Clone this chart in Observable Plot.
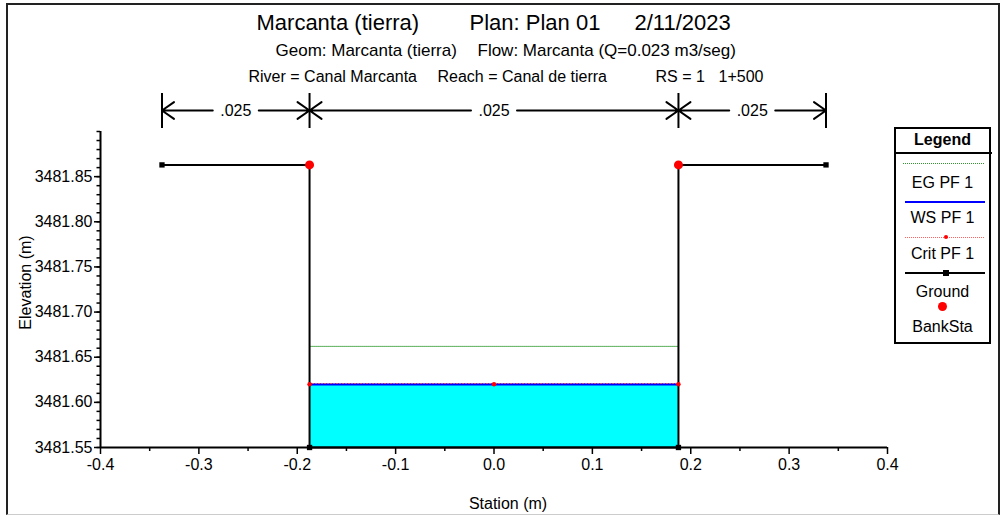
<!DOCTYPE html>
<html><head><meta charset="utf-8">
<script src="https://cdn.jsdelivr.net/npm/d3@7"></script>
<script src="https://cdn.jsdelivr.net/npm/@observablehq/plot@0.6"></script>
<style>
body{margin:0;background:#fff;font-family:"Liberation Sans",Arial,sans-serif;}
#wrap{position:relative;width:1000px;height:515px;overflow:hidden;background:#fff;}
#wrap svg{position:absolute;left:0;top:0;}
#frame{position:absolute;left:6px;top:3px;width:990px;height:509px;border:2px solid #222;border-bottom:1px solid #ccc;pointer-events:none;}
.lg{position:absolute;}
.lgt{position:absolute;left:894px;width:97px;text-align:center;font-size:16px;line-height:20px;color:#000;}
</style></head><body>
<div id="wrap"><div id="frame"></div></div>
<script>
// ---- data ----
const titleParts = ["Marcanta (tierra)", "Plan: Plan 01", "2/11/2023"];
const subtitleParts = ["Geom: Marcanta (tierra)", "Flow: Marcanta (Q=0.023 m3/seg)"];
const infoParts = ["River = Canal Marcanta", "Reach = Canal de tierra", "RS = 1", "1+500"];
const groundStation = [-0.3375, -0.1875, -0.1875, 0.1875, 0.1875, 0.3375];
const groundElev = [3481.863, 3481.863, 3481.55, 3481.55, 3481.863, 3481.863];
const bankStations = [-0.1875, 0.1875];
const bankElev = [3481.863, 3481.863];
const wsElev = 3481.620;
const egElev = 3481.662;
const critElev = 3481.620;
const critStations = [-0.1875, 0, 0.1875];
const nBreaks = [-0.3375, -0.1875, 0.1875, 0.3375];
const nValues = [0.025, 0.025, 0.025];
const xTicks = [-0.4, -0.3, -0.2, -0.1, 0, 0.1, 0.2, 0.3, 0.4];
const yTicks = [3481.55, 3481.60, 3481.65, 3481.70, 3481.75, 3481.80, 3481.85];
const legendItems = ["EG PF 1", "WS PF 1", "Crit PF 1", "Ground", "BankSta"];
const xLabel = "Station (m)";
const yLabel = "Elevation (m)";

// ---- layout ----
const W = 1000, H = 515;
const M = {left: 100, right: 113, top: 131, bottom: 68};
const xDomain = [-0.4, 0.4], yDomain = [3481.55, 3481.90];
const ys = Plot.scale({y: {domain: yDomain, range: [H - M.bottom, M.top]}});
const xs = Plot.scale({x: {domain: xDomain, range: [M.left, W - M.right]}});
const yAnn = ys.invert(110), yBarTop = ys.invert(93), yBarBot = ys.invert(128);
const yTickEnd = ys.invert(H - M.bottom + 4);
const xTickEnd = xs.invert(M.left - 3.5);

const ground = groundStation.map((x, i) => ({x, y: groundElev[i]}));
const banks = bankStations.map((x, i) => ({x, y: bankElev[i]}));
const water = [{x1: bankStations[0], x2: bankStations[1], y1: d3.min(groundElev), y2: wsElev}];
const eg = bankStations.map(x => ({x, y: egElev}));
const ws = bankStations.map(x => ({x, y: wsElev}));
const crit = critStations.map(x => ({x, y: critElev}));
const segs = nValues.map((n, i) => ({a: nBreaks[i], b: nBreaks[i + 1], mid: (nBreaks[i] + nBreaks[i + 1]) / 2, n}));
const arrows = segs.flatMap(s => [{from: s.mid, to: s.a}, {from: s.mid, to: s.b}]);
const fmtN = n => d3.format(".3f")(n).replace(/^0/, "");
const xMinor = d3.range(8).map(i => +(-0.35 + i * 0.1).toFixed(2));
const yMinor = d3.range(36).map(i => +(yDomain[0] + i * 0.01).toFixed(2));

function txt(str, px, py, opts) {
  return Plot.text([str], {frameAnchor: "top-left", dx: px - M.left, dy: py - M.top, text: d => d,
    textAnchor: "start", lineAnchor: "middle", fill: "black", ...opts});
}

const chart = Plot.plot({
  width: W, height: H,
  marginLeft: M.left, marginRight: M.right, marginTop: M.top, marginBottom: M.bottom,
  x: {domain: xDomain},
  y: {domain: yDomain},
  style: {fontFamily: "'Liberation Sans', Arial, sans-serif", fontSize: "16px", color: "black", background: "transparent", overflow: "visible"},
  marks: [
    Plot.rect(water, {x1: "x1", x2: "x2", y1: "y1", y2: "y2", fill: "#00ffff"}),
    Plot.line(eg, {x: "x", y: "y", stroke: "#4aa84a", strokeWidth: 1, strokeDasharray: "1,1"}),
    Plot.line(ws, {x: "x", y: "y", stroke: "#0000ff", strokeWidth: 2.2}),
    Plot.line(ground, {x: "x", y: "y", stroke: "black", strokeWidth: 2}),
    Plot.dot(ground, {x: "x", y: "y", symbol: "square", fill: "black", r: 3}),
    Plot.line(crit, {x: "x", y: "y", dy: -0.8, stroke: "#ff6060", strokeWidth: 0.8, strokeDasharray: "1,2"}),
    Plot.dot(crit, {x: "x", y: "y", fill: "#ff0000", r: 2.2}),
    Plot.dot(banks, {x: "x", y: "y", fill: "#ff0000", r: 4.5}),
    // Manning's n annotation
    Plot.ruleX(nBreaks, {x: d => d, y1: yBarTop, y2: yBarBot, stroke: "black", strokeWidth: 2}),
    Plot.arrow(arrows, {x1: "from", x2: "to", y1: yAnn, y2: yAnn, insetStart: 23, insetEnd: 0,
      headLength: 11, headAngle: 70, stroke: "black", strokeWidth: 2}),
    Plot.text(segs, {x: "mid", y: yAnn, text: d => fmtN(d.n), fontSize: 16, fill: "black", lineAnchor: "middle"}),
    // axes
    Plot.ruleX(xMinor, {x: d => d, y1: yDomain[0], y2: yTickEnd, stroke: "black", strokeWidth: 1.5}),
    Plot.ruleY(yMinor, {y: d => d, x1: xDomain[0], x2: xTickEnd, stroke: "black", strokeWidth: 1.5}),
    Plot.axisX(xTicks, {tickSize: 7, tickPadding: 4, tickFormat: d => d.toFixed(1), fontSize: 16, label: null, strokeWidth: 1.5}),
    Plot.axisY(yTicks, {tickSize: 6, tickPadding: 2, tickFormat: d => d.toFixed(2), fontSize: 16, label: null, strokeWidth: 1.5}),
    Plot.ruleY([yDomain[0]], {stroke: "black", strokeWidth: 2}),
    Plot.ruleX([xDomain[0]], {stroke: "black", strokeWidth: 2}),
    Plot.text([yLabel], {frameAnchor: "left", dx: -75, dy: -7, rotate: -90, fontSize: 16, fill: "black",
      textAnchor: "middle", lineAnchor: "middle", text: d => d}),
    Plot.text([xLabel], {frameAnchor: "bottom", dx: 14, dy: 56, fontSize: 16, fill: "black",
      textAnchor: "middle", lineAnchor: "middle", text: d => d}),
    // titles
    txt(titleParts[0], 256, 22, {fontSize: 22}),
    txt(titleParts[1], 469, 22, {fontSize: 22}),
    txt(titleParts[2], 634, 22, {fontSize: 22}),
    txt(subtitleParts[0], 275, 50, {fontSize: 17}),
    txt(subtitleParts[1], 477, 50, {fontSize: 17}),
    txt(infoParts[0], 248, 76, {fontSize: 16}),
    txt(infoParts[1], 437, 76, {fontSize: 16}),
    txt(infoParts[2], 655, 76, {fontSize: 16}),
    txt(infoParts[3], 718, 76, {fontSize: 16})
  ]
});
const wrap = document.getElementById("wrap");
wrap.insertBefore(chart, wrap.firstChild);

// ---- legend ----
function add(style, cls, text) {
  const d = document.createElement("div");
  d.className = cls || "lg";
  d.setAttribute("style", style);
  if (text) d.textContent = text;
  wrap.appendChild(d);
}
const dots = c => `background:repeating-linear-gradient(90deg, ${c} 0 1px, transparent 1px 2px);`;
add("left:894px;top:127px;width:93px;height:213px;border:2px solid #000;background:#fff;");
add("left:894px;top:152px;width:98px;height:2px;background:#000;");
add("top:130px;font-weight:bold;", "lgt", "Legend");
add("left:903px;top:163px;width:81px;height:1px;" + dots("#2f962f"));
add("top:173px;", "lgt", legendItems[0]);
add("left:905px;top:201px;width:80px;height:2px;background:#0000ff;");
add("top:208px;", "lgt", legendItems[1]);
add("left:905px;top:237px;width:80px;height:1px;" + dots("#ff6060"));
add("left:944px;top:235px;width:4px;height:4px;background:#ff0000;border-radius:2px;");
add("top:244px;", "lgt", legendItems[2]);
add("left:905px;top:272px;width:80px;height:2px;background:#000;");
add("left:943px;top:270px;width:6px;height:6px;background:#000;");
add("top:282px;", "lgt", legendItems[3]);
add("left:938px;top:302px;width:9px;height:9px;background:#ff0000;border-radius:50%;");
add("top:317px;", "lgt", legendItems[4]);
</script>
</body></html>
